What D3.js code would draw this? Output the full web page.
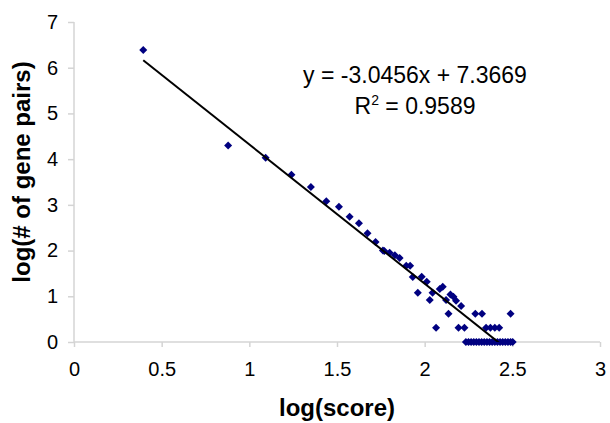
<!DOCTYPE html>
<html>
<head>
<meta charset="utf-8">
<script src="https://cdn.jsdelivr.net/npm/d3@7"></script>
<style>
  body { margin: 0; background: #fff; }
  text { font-family: "Liberation Sans", Arial, sans-serif; fill: #000; }
</style>
</head>
<body>
<div id="chart"></div>
<script>
// Scatter points: log(score) and log(# of gene pairs)
var logScore = [
    0.395, 0.879, 1.093, 1.240, 1.351, 1.439, 1.511, 1.572, 1.625, 1.674,
    1.720, 1.762, 1.770, 1.800, 1.830, 1.857, 1.895, 1.917, 1.932, 1.961,
    1.983, 2.012, 2.029, 2.045, 2.065, 2.086, 2.103, 2.122, 2.136, 2.147,
    2.164, 2.179, 2.208, 2.193, 2.227, 2.289, 2.327, 2.350, 2.375, 2.400,
    2.425, 2.490,
    2.235, 2.250, 2.265, 2.280, 2.295, 2.310, 2.325, 2.340, 2.355, 2.370,
    2.385, 2.400, 2.415, 2.430, 2.445, 2.460, 2.475, 2.490, 2.502
];
var logPairs = [
    6.39, 4.30, 4.03, 3.66, 3.39, 3.08, 2.96, 2.74, 2.60, 2.38,
    2.19, 2.00, 1.99, 1.95, 1.90, 1.84, 1.67, 1.67, 1.42, 1.08,
    1.43, 1.32, 0.92, 1.08, 0.31, 1.16, 1.21, 0.92, 0.62, 1.04,
    0.99, 0.90, 0.79, 0.31, 0.31, 0.62, 0.62, 0.31, 0.31, 0.31,
    0.31, 0.62,
    0, 0, 0, 0, 0, 0, 0, 0, 0, 0,
    0, 0, 0, 0, 0, 0, 0, 0, 0
];

// Linear trendline shown on the chart
var slope = -3.0456;
var intercept = 7.3669;
var eqLabel = 'y = -3.0456x + 7.3669';
var r2Value = '0.9589';

var xTicks = [0, 0.5, 1, 1.5, 2, 2.5, 3];
var yTicks = [0, 1, 2, 3, 4, 5, 6, 7];

var fullWidth = 610;
var fullHeight = 423;
var margin = { top: 22, right: 10, bottom: 81, left: 74 };
var width = 600 - margin.left;
var height = fullHeight - margin.top - margin.bottom;

var svg = d3.select('#chart').append('svg')
    .attr('width', fullWidth)
    .attr('height', fullHeight);

var plot = svg.append('g')
    .attr('transform', 'translate(' + margin.left + ',' + margin.top + ')');

var xScale = d3.scaleLinear().domain([0, 3]).range([0, width]);
var yScale = d3.scaleLinear().domain([0, 7]).range([height, 0]);

// Axes - light gray lines, outside ticks
var xAxis = d3.axisBottom(xScale).tickValues(xTicks).tickSize(5).tickPadding(15)
    .tickFormat(function (d) { return String(d); });
var yAxis = d3.axisLeft(yScale).tickValues(yTicks).tickSize(6).tickPadding(10)
    .tickFormat(d3.format('d'));

var xAxisEle = plot.append('g')
    .attr('transform', 'translate(0,' + height + ')')
    .call(xAxis);
var yAxisEle = plot.append('g').call(yAxis);

[xAxisEle, yAxisEle].forEach(function (ax) {
    ax.selectAll('path.domain').attr('stroke', '#d4d4d4').attr('stroke-width', 1.5);
    ax.selectAll('.tick line').attr('stroke', '#d4d4d4').attr('stroke-width', 1.5);
    ax.selectAll('.tick text')
        .style('font-family', '"Liberation Sans", Arial, sans-serif')
        .style('font-size', '20px')
        .attr('fill', '#000');
});
xAxisEle.selectAll('path.domain').attr('d', 'M0,0H' + width);
yAxisEle.selectAll('path.domain').attr('d', 'M0,' + height + 'V0');

// Axis titles
svg.append('text')
    .attr('x', 337)
    .attr('y', 416)
    .style('text-anchor', 'middle')
    .style('font-size', '24px')
    .style('font-weight', 'bold')
    .text('log(score)');

svg.append('text')
    .attr('transform', 'translate(30,' + 172 + ')rotate(-90)')
    .style('text-anchor', 'middle')
    .style('font-size', '24px')
    .style('font-weight', 'bold')
    .text('log(# of gene pairs)');

// Points - navy diamonds
var diamond = 'M0,-4L4,0L0,4L-4,0Z';
plot.append('g').selectAll('path.pt')
    .data(logScore)
    .enter().append('path')
    .attr('class', 'pt')
    .attr('d', diamond)
    .attr('fill', '#000080')
    .attr('transform', function (d, i) {
        return 'translate(' + xScale(d) + ',' + yScale(logPairs[i]) + ')';
    });

// Trendline clipped to the plot area
plot.append('clipPath').attr('id', 'clip')
    .append('rect').attr('width', width).attr('height', height);

var xMin = d3.min(logScore);
var xMax = d3.max(logScore);
plot.append('line')
    .attr('clip-path', 'url(#clip)')
    .attr('x1', xScale(xMin))
    .attr('y1', yScale(slope * xMin + intercept))
    .attr('x2', xScale(xMax))
    .attr('y2', yScale(slope * xMax + intercept))
    .attr('stroke', '#000')
    .attr('stroke-width', 2);

// Trendline equation label (centered lines)
svg.append('text')
    .attr('x', 415)
    .attr('y', 83)
    .style('text-anchor', 'middle')
    .style('font-size', '23px')
    .text(eqLabel);

var r2 = svg.append('text')
    .attr('x', 415)
    .attr('y', 114)
    .style('text-anchor', 'middle')
    .style('font-size', '23px');
r2.append('tspan').text('R');
r2.append('tspan').attr('dy', -9).style('font-size', '14px').text('2');
r2.append('tspan').attr('dy', 9).text(' = ' + r2Value);
</script>
</body>
</html>
